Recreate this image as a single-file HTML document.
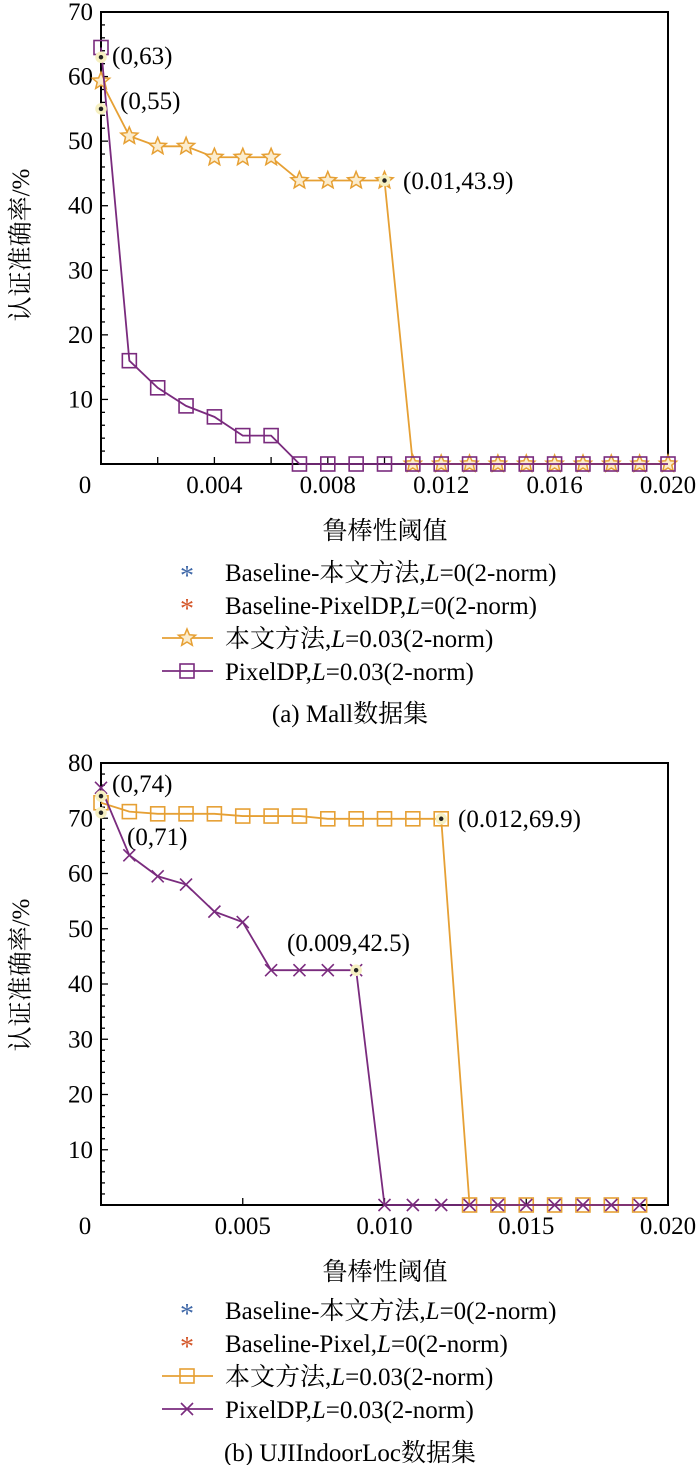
<!DOCTYPE html>
<html><head><meta charset="utf-8">
<style>
body{margin:0;background:#fff;}
svg{display:block;font-family:"Liberation Serif","Noto Serif CJK SC","Noto Sans CJK SC",serif;}
</style></head>
<body>
<svg id="svg" width="700" height="1465" viewBox="0 0 700 1465" xmlns="http://www.w3.org/2000/svg"></svg>
<script>
const xsA = [0,0.001,0.002,0.003,0.004,0.005,0.006,0.007,0.008,0.009,0.010,0.011,0.012,0.013,0.014,0.015,0.016,0.017,0.018,0.019,0.020];
const oursA = [59.3,50.8,49.2,49.2,47.5,47.5,47.5,43.9,43.9,43.9,43.9,0,0,0,0,0,0,0,0,0,0];
const pixelA = [64.5,16,11.8,9,7.3,4.4,4.4,0,0,0,0,0,0,0,0,0,0,0,0,0,0];
const dotsAx = [0,0,0.010];
const dotsAy = [63,55,43.9];
const dotLabelsA = ["(0,63)","(0,55)","(0.01,43.9)"];
const xTicksA = [0,0.004,0.008,0.012,0.016,0.020];
const xTickLabelsA = ["0","0.004","0.008","0.012","0.016","0.020"];
const yTicksA = [10,20,30,40,50,60,70];

const xsB = [0,0.001,0.002,0.003,0.004,0.005,0.006,0.007,0.008,0.009,0.010,0.011,0.012,0.013,0.014,0.015,0.016,0.017,0.018,0.019];
const oursB = [72.8,71.2,70.8,70.8,70.8,70.4,70.4,70.4,69.9,69.9,69.9,69.9,69.9,0,0,0,0,0,0,0];
const pixelB = [75.5,63.3,59.5,58,53.1,51.2,42.5,42.5,42.5,42.5,0,0,0,0,0,0,0,0,0,0];
const dotsBx = [0,0,0.009,0.012];
const dotsBy = [74,71,42.5,69.9];
const dotLabelsB = ["(0,74)","(0,71)","(0.009,42.5)","(0.012,69.9)"];
const xTicksB = [0,0.005,0.010,0.015,0.020];
const xTickLabelsB = ["0","0.005","0.010","0.015","0.020"];
const yTicksB = [10,20,30,40,50,60,70,80];

const NS="http://www.w3.org/2000/svg";
const svg=document.getElementById('svg');
const OR="#E6A034", PU="#7A2B7E";
const FS=25;
function mk(tag,attrs,parent){const e=document.createElementNS(NS,tag);for(const k in attrs)e.setAttribute(k,attrs[k]);(parent||svg).appendChild(e);return e;}

function chart(cfg){
  const g=mk('g',{});
  
  
  const X=v=>cfg.x0+v*(cfg.x1-cfg.x0)/0.020;
  const Y=v=>cfg.yb-(v/cfg.ymax)*(cfg.yb-cfg.yt);
  const fr=mk('rect',{x:cfg.x0,y:cfg.yt,width:cfg.x1-cfg.x0,height:cfg.yb-cfg.yt,fill:'none',stroke:'#000','stroke-width':2},g);
  
  for(let v=0;v<=cfg.ymax;v+=cfg.ymin){mk('line',{x1:cfg.x0,x2:cfg.x0+(v%10===0?7:4),y1:Y(v),y2:Y(v),stroke:'#000','stroke-width':1.3},g);}
  cfg.yTicks.forEach(v=>{
    const t=mk('text',{x:cfg.x0-8,y:Y(v)+8,'text-anchor':'end','font-size':FS},g);t.textContent=v;
    
  });
  for(let v=0;v<=0.0200001;v+=cfg.xminor){mk('line',{x1:X(v),x2:X(v),y1:cfg.yb,y2:cfg.yb-7,stroke:'#000','stroke-width':1.3},g);}
  cfg.xTicks.forEach((v,i)=>{
    const t=mk('text',{x:X(v)-(v===0?16:0),y:cfg.yb+29,'text-anchor':'middle','font-size':FS},g);t.textContent=cfg.xTickLabels[i];
    
  });
  const yt=mk('text',{transform:`translate(29,${cfg.ytitleY}) rotate(-90)`,'text-anchor':'middle','font-size':FS},g);
  yt.textContent='认证准确率/%';
  const xt=mk('text',{x:385,y:cfg.yb+75,'text-anchor':'middle','font-size':FS},g);
  xt.textContent='鲁棒性阈值';
  cfg.series.forEach(s=>{
    const pl=mk('polyline',{points:s.ys.map((v,i)=>X(cfg.xs[i])+','+Y(v)).join(' '),fill:'none',stroke:s.color,'stroke-width':1.8},g);
    
    s.ys.forEach((v,i)=>{const m=marker(s.marker,X(cfg.xs[i]),Y(v),s.color,g);});
  });
  cfg.dx.forEach((v,i)=>{
    const c=mk('circle',{cx:X(v),cy:Y(cfg.dy[i]),r:4,fill:'#222',stroke:'#f6f0c2','stroke-width':3.5},g);
    
    const t=mk('text',{x:cfg.lp[i][0],y:cfg.lp[i][1],'font-size':FS},g);t.textContent=cfg.dl[i];
    
  });
  cfg.legend.forEach((it,i)=>{
    const y=cfg.ly+i*33;
    const lg=mk('g',{},g);
    
    if(it.type==='ast'){const t=mk('text',{x:187,y:y+13,'text-anchor':'middle','font-size':28,fill:it.color},lg);t.textContent='*';}
    else{mk('line',{x1:162,x2:213,y1:y,y2:y,stroke:it.color,'stroke-width':1.8},lg);marker(it.type,187,y,it.color,lg);}
    const t=mk('text',{x:225,y:y+9,'font-size':FS},lg);
    t.innerHTML=it.text;
  });
  const cap=mk('text',{x:350,y:cfg.capY,'text-anchor':'middle','font-size':FS},g);
  cap.textContent=cfg.caption;
}
function marker(type,x,y,c,g){
  if(type==='star'){
    let p=[];for(let k=0;k<10;k++){const r=k%2?4:9;const a=-Math.PI/2+k*Math.PI/5;p.push((x+r*Math.cos(a)).toFixed(1)+','+(y+r*Math.sin(a)).toFixed(1));}
    return mk('polygon',{points:p.join(' '),fill:'#fbeccd',stroke:c,'stroke-width':1.5},g);
  }
  if(type==='sq')return mk('rect',{x:x-7,y:y-7,width:14,height:14,fill:'none',stroke:c,'stroke-width':1.6},g);
  if(type==='x')return mk('path',{d:`M${x-6},${y-6}L${x+6},${y+6}M${x-6},${y+6}L${x+6},${y-6}`,stroke:c,'stroke-width':1.6},g);
}
const it='<tspan font-style="italic">L</tspan>';
chart({name:'chart-mall',x0:101,x1:668,yt:12,yb:464,ymax:70,ymin:2,xminor:0.002,xs:xsA,
  yTicks:yTicksA,xTicks:xTicksA,xTickLabels:xTickLabelsA,ytitleY:245,
  series:[{name:'ours',ys:oursA,color:OR,marker:'star'},{name:'pixeldp',ys:pixelA,color:PU,marker:'sq'}],
  dx:dotsAx,dy:dotsAy,dl:dotLabelsA,lp:[[112,64],[120,109],[403,189]],
  ly:572,capY:722,caption:'(a) Mall数据集',
  legend:[{type:'ast',color:'#3f68a8',text:'Baseline-本文方法,'+it+'=0(2-norm)'},
          {type:'ast',color:'#d4572a',text:'Baseline-PixelDP,'+it+'=0(2-norm)'},
          {type:'star',color:OR,text:'本文方法,'+it+'=0.03(2-norm)'},
          {type:'sq',color:PU,text:'PixelDP,'+it+'=0.03(2-norm)'}]});
chart({name:'chart-ujiindoorloc',x0:101,x1:668,yt:763,yb:1205,ymax:80,ymin:2,xminor:0.005,xs:xsB,
  yTicks:yTicksB,xTicks:xTicksB,xTickLabels:xTickLabelsB,ytitleY:975,
  series:[{name:'ours',ys:oursB,color:OR,marker:'sq'},{name:'pixeldp',ys:pixelB,color:PU,marker:'x'}],
  dx:dotsBx,dy:dotsBy,dl:dotLabelsB,lp:[[112,792],[127,845],[287,951],[458,827]],
  ly:1310,capY:1461,caption:'(b) UJIIndoorLoc数据集',
  legend:[{type:'ast',color:'#3f68a8',text:'Baseline-本文方法,'+it+'=0(2-norm)'},
          {type:'ast',color:'#d4572a',text:'Baseline-Pixel,'+it+'=0(2-norm)'},
          {type:'sq',color:OR,text:'本文方法,'+it+'=0.03(2-norm)'},
          {type:'x',color:PU,text:'PixelDP,'+it+'=0.03(2-norm)'}]});
</script>
</body></html>
